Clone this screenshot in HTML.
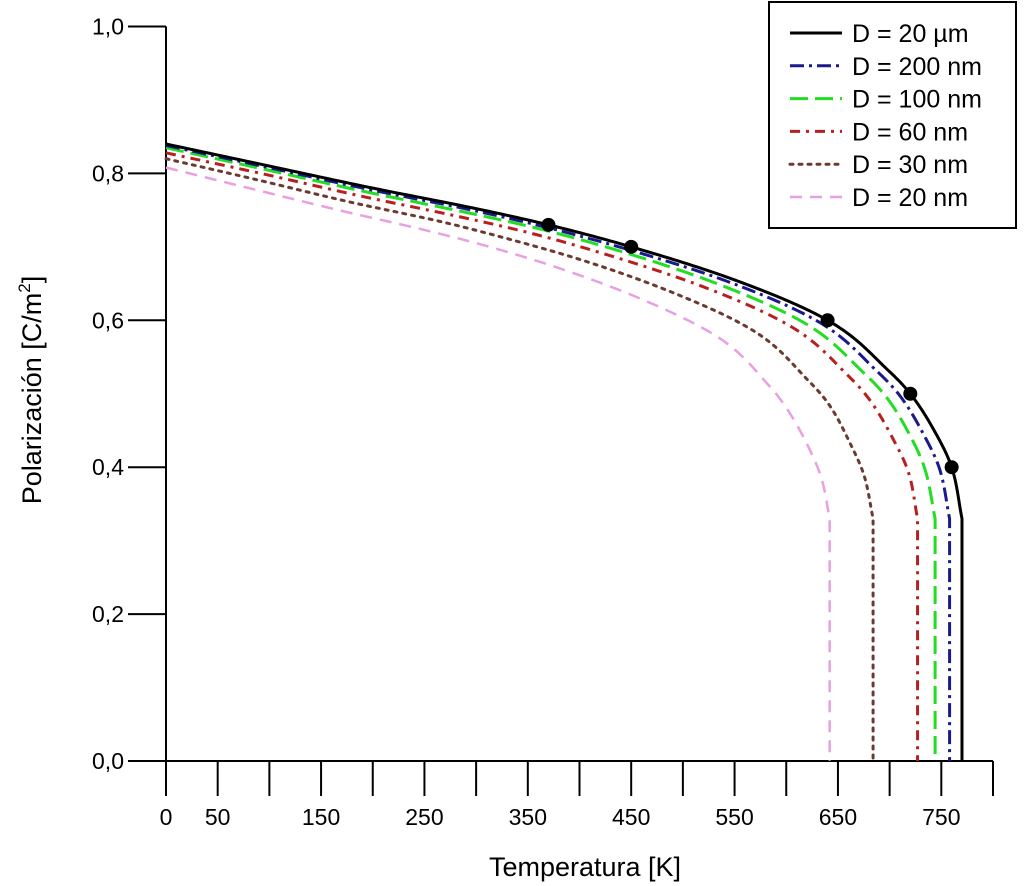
<!DOCTYPE html>
<html><head><meta charset="utf-8">
<style>
html,body{margin:0;padding:0;background:#fff;}
svg{display:block;font-family:"Liberation Sans",Arial,sans-serif;}
</style></head>
<body>
<svg id="chart" width="1024" height="886" viewBox="0 0 1024 886" xmlns="http://www.w3.org/2000/svg"></svg>
<script>
const xTicks = [0,50,100,150,200,250,300,350,400,450,500,550,600,650,700,750,800];
const xTickLabels = ["0","50","","150","","250","","350","","450","","550","","650","","750",""];
const yTicks = [0,0.2,0.4,0.6,0.8,1.0];
const yTickLabels = ["0,0","0,2","0,4","0,6","0,8","1,0"];
const seriesNames = ["D = 20 µm","D = 200 nm","D = 100 nm","D = 60 nm","D = 30 nm","D = 20 nm"];
const T_20um = [0,100,200,300,370,450,550,640,700,720,747,760,770];
const P_20um = [.84,.81,.78,.752,.73,.70,.655,.60,.53,.50,.44,.40,.33];
const T_200nm = [0,99,197,296,364,443,541,630,689,709,735,748,758];
const P_200nm = [.838,.808,.778,.750,.728,.698,.654,.599,.529,.499,.439,.399,.33];
const T_100nm = [0,97,193,290,357,435,531,618,676,696,722,734,744];
const P_100nm = [.835,.805,.775,.747,.726,.696,.651,.596,.527,.497,.437,.398,.33];
const T_60nm = [0,95,189,284,349,425,519,604,661,680,705,718,727];
const P_60nm = [.828,.799,.769,.741,.72,.69,.646,.592,.523,.493,.434,.394,.33];
const T_30nm = [0,89,178,267,328,400,488,568,622,640,663,675,684];
const P_30nm = [.82,.791,.761,.734,.712,.683,.639,.586,.517,.488,.429,.39,.33];
const T_20nm = [0,83,167,250,308,376,458,534,584,600,623,634,642];
const P_20nm = [.808,.779,.750,.723,.702,.673,.63,.577,.51,.481,.423,.385,.33];
const expT = [370,450,640,720,760];
const expP = [0.73,0.70,0.60,0.50,0.40];

const NS="http://www.w3.org/2000/svg";
const svg=document.getElementById('chart');
const X0=166, XS=(993-166)/800;
const Y0=761, YS=(761-26.5)/1.0;
const xs=v=>X0+v*XS, ys=v=>Y0-v*YS;
function mk(tag,attrs,parent){const e=document.createElementNS(NS,tag);for(const k in attrs)e.setAttribute(k,attrs[k]);(parent||svg).appendChild(e);return e;}

let ax=mk('line',{x1:X0,y1:ys(1),x2:X0,y2:Y0,stroke:'#000','stroke-width':2});


ax=mk('line',{x1:X0,y1:Y0,x2:xs(800),y2:Y0,stroke:'#000','stroke-width':2});



xTicks.forEach((t,i)=>{
  const l=mk('line',{x1:xs(t),y1:Y0,x2:xs(t),y2:Y0+35,stroke:'#000','stroke-width':2});
  
  
  if(xTickLabels[i]){
    const tx=mk('text',{x:xs(t),y:825,'font-size':23,'text-anchor':'middle'});
    tx.textContent=xTickLabels[i];
    
    
  }
});
yTicks.forEach((t,i)=>{
  const l=mk('line',{x1:128,y1:ys(t),x2:X0,y2:ys(t),stroke:'#000','stroke-width':2});
  
  
  const tx=mk('text',{x:124,y:ys(t)+8,'font-size':23,'text-anchor':'end'});
  tx.textContent=yTickLabels[i];
  
  
});

let t=mk('text',{x:585,y:876,'font-size':27,'text-anchor':'middle'});
t.textContent='Temperatura [K]';


t=mk('text',{transform:'translate(41,390) rotate(-90)','font-size':27,'text-anchor':'middle'});
t.innerHTML='Polarización [C/m<tspan dy="-11" font-size="17">2</tspan><tspan dy="11">]</tspan>';



const styles=[
 {c:'#000',d:'',w:3},
 {c:'#1a1a8c',d:'14 5 3 5',w:3},
 {c:'#22dd22',d:'18 7',w:3},
 {c:'#b82020',d:'10 6 3 6',w:3},
 {c:'#6b3a30',d:'3 6',w:3},
 {c:'#e8a0e0',d:'12 8',w:2.5}
];
const Ts=[T_20um,T_200nm,T_100nm,T_60nm,T_30nm,T_20nm];
const Ps=[P_20um,P_200nm,P_100nm,P_60nm,P_30nm,P_20nm];
const keys=['20um','200nm','100nm','60nm','30nm','20nm'];

// monotone cubic interpolation of T as a function of P (x = P ascending)
function monotone(xa,ya){
  const n=xa.length,d=[],m=new Array(n);
  for(let i=0;i<n-1;i++)d.push((ya[i+1]-ya[i])/(xa[i+1]-xa[i]));
  m[0]=d[0];m[n-1]=d[n-2];
  for(let i=1;i<n-1;i++){m[i]=(d[i-1]*d[i]<=0)?0:(d[i-1]+d[i])/2;}
  for(let i=0;i<n-1;i++){
    if(d[i]===0){m[i]=0;m[i+1]=0;continue;}
    const a=m[i]/d[i],b=m[i+1]/d[i],s=a*a+b*b;
    if(s>9){const tt=3/Math.sqrt(s);m[i]=tt*a*d[i];m[i+1]=tt*b*d[i];}
  }
  return x=>{
    let i=0;while(i<n-2&&x>xa[i+1])i++;
    const h=xa[i+1]-xa[i],u=(x-xa[i])/h;
    const h00=2*u*u*u-3*u*u+1,h10=u*u*u-2*u*u+u,h01=-2*u*u*u+3*u*u,h11=u*u*u-u*u;
    return h00*ya[i]+h10*h*m[i]+h01*ya[i+1]+h11*h*m[i+1];
  };
}
for(let s=5;s>=0;s--){
  const P=Ps[s].slice().reverse(), T=Ts[s].slice().reverse();
  const f=monotone(P,T);
  const pmin=P[0],pmax=P[P.length-1];
  let d='';
  const N=240;
  for(let k=0;k<=N;k++){
    const p=pmax-(pmax-pmin)*k/N;
    d+=(k?' L':'M')+xs(f(p)).toFixed(2)+','+ys(p).toFixed(2);
  }
  d+=' L'+xs(T[0]).toFixed(2)+','+ys(0).toFixed(2);
  const path=mk('path',{d:d,fill:'none',stroke:styles[s].c,'stroke-width':styles[s].w,'stroke-dasharray':styles[s].d,'stroke-linecap':s===4?'round':'butt','stroke-linejoin':'round'});
  
  
}
expT.forEach((v,i)=>{
  const c=mk('circle',{cx:xs(v),cy:ys(expP[i]),r:7,fill:'#000'});
  
  
});

const lg=mk('g',{});


mk('rect',{x:769,y:2,width:247,height:226,fill:'#fff',stroke:'#000','stroke-width':2},lg);
seriesNames.forEach((n,i)=>{
  const y=33+i*32.8;
  const l=mk('line',{x1:790,y1:y,x2:842,y2:y,stroke:styles[i].c,'stroke-width':styles[i].w,'stroke-dasharray':styles[i].d,'stroke-linecap':i===4?'round':'butt'},lg);
  
  
  const tx=mk('text',{x:852,y:y+9,'font-size':25},lg);
  tx.textContent=n;
  
  
});
</script>
</body></html>
